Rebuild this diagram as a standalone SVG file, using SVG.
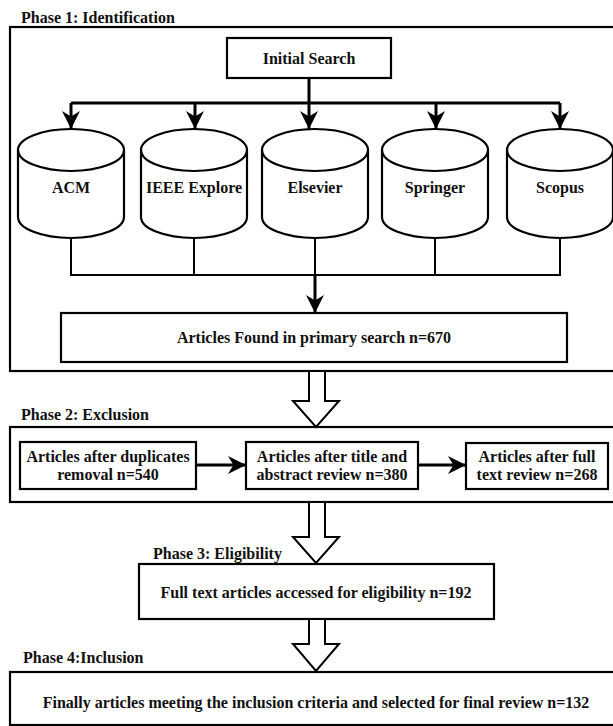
<svg xmlns="http://www.w3.org/2000/svg" width="613" height="726" viewBox="0 0 613 726">
<defs>
<style>
.bg{fill:#fff}
.box{fill:#fff;stroke:#000;stroke-width:2.2}
.frame{fill:none;stroke:#000;stroke-width:2.2}
.ln{fill:none;stroke:#000;stroke-width:2}
.lnb{fill:none;stroke:#000;stroke-width:3}
.hol{fill:#fff;stroke:#000;stroke-width:2;stroke-linejoin:miter}
text{font-family:"Liberation Serif","Times New Roman",serif;font-weight:bold;font-size:16px;fill:#111}
.c{text-anchor:middle}
</style>
<marker id="ah" viewBox="0 0 10 10" refX="10" refY="5" markerWidth="6" markerHeight="6" markerUnits="strokeWidth" orient="auto">
<path d="M0,0 L10,5 L0,10 L3,5 Z" fill="#000"/>
</marker>
<marker id="ah2" viewBox="0 0 10 10" refX="10" refY="5" markerWidth="8" markerHeight="8" markerUnits="strokeWidth" orient="auto">
<path d="M0,0 L10,5 L0,10 L3,5 Z" fill="#000"/>
</marker>
</defs>
<rect class="bg" x="0" y="0" width="613" height="726"/>

<g id="phase1">
<text x="21" y="23">Phase 1: Identification</text>
<rect class="frame" x="10" y="27" width="606" height="344"/>
</g>

<g id="initial-search">
<rect class="box" x="227" y="38" width="164" height="40"/>
<text class="c" x="309" y="64">Initial Search</text>
</g>

<g id="acm">
<path class="box" d="M18,150 V217 A53,21 0 0 0 124,217 V150 A53,21 0 0 0 18,150 Z"/>
<path class="ln" d="M18,150 A53,21 0 0 0 124,150" style="stroke-width:2.2"/>
<text class="c" x="71" y="193">ACM</text>
</g>
<g id="ieee">
<path class="box" d="M141,150 V217 A53,21 0 0 0 247,217 V150 A53,21 0 0 0 141,150 Z"/>
<path class="ln" d="M141,150 A53,21 0 0 0 247,150" style="stroke-width:2.2"/>
<text class="c" x="194" y="193">IEEE Explore</text>
</g>
<g id="elsevier">
<path class="box" d="M262,150 V217 A53,21 0 0 0 368,217 V150 A53,21 0 0 0 262,150 Z"/>
<path class="ln" d="M262,150 A53,21 0 0 0 368,150" style="stroke-width:2.2"/>
<text class="c" x="315" y="193">Elsevier</text>
</g>
<g id="springer">
<path class="box" d="M382,150 V217 A53,21 0 0 0 488,217 V150 A53,21 0 0 0 382,150 Z"/>
<path class="ln" d="M382,150 A53,21 0 0 0 488,150" style="stroke-width:2.2"/>
<text class="c" x="435" y="193">Springer</text>
</g>
<g id="scopus">
<path class="box" d="M507,150 V217 A53,21 0 0 0 613,217 V150 A53,21 0 0 0 507,150 Z"/>
<path class="ln" d="M507,150 A53,21 0 0 0 613,150" style="stroke-width:2.2"/>
<text class="c" x="560" y="193">Scopus</text>
</g>

<g id="articles-found">
<rect class="box" x="61" y="313" width="506" height="49"/>
<text class="c" x="314" y="343">Articles Found in primary search n=670</text>
</g>

<g id="phase2">
<text x="21" y="420">Phase 2: Exclusion</text>
<rect class="frame" x="10" y="427" width="606" height="75"/>
</g>
<g id="after-duplicates">
<rect class="box" x="20" y="442" width="176" height="47"/>
<text class="c" x="108" y="462">Articles after duplicates</text>
<text class="c" x="108" y="480">removal n=540</text>
</g>
<g id="after-title">
<rect class="box" x="246" y="442" width="172" height="47"/>
<text class="c" x="332" y="462">Articles after title and</text>
<text class="c" x="332" y="480">abstract review n=380</text>
</g>
<g id="after-fulltext">
<rect class="box" x="466" y="443" width="142" height="46"/>
<text class="c" x="537" y="462">Articles after full</text>
<text class="c" x="537" y="480">text review n=268</text>
</g>

<g id="phase3">
<text x="153" y="559">Phase 3: Eligibility</text>
<rect class="box" x="139" y="564" width="355" height="55"/>
<text class="c" x="316" y="598">Full text articles accessed for eligibility n=192</text>
</g>

<g id="phase4">
<text x="23" y="663">Phase 4:Inclusion</text>
<rect class="box" x="10" y="672" width="606" height="53"/>
<text class="c" x="316" y="708">Finally articles meeting the inclusion criteria and selected for final review n=132</text>
</g>

<g id="connectors">
<path class="lnb" d="M309,78 V103"/>
<path class="lnb" d="M71,103 H560"/>
<path class="lnb" d="M71,103 V129" marker-end="url(#ah)"/>
<path class="lnb" d="M195,103 V129" marker-end="url(#ah)"/>
<path class="lnb" d="M309,103 V129" marker-end="url(#ah)"/>
<path class="lnb" d="M436,103 V129" marker-end="url(#ah)"/>
<path class="lnb" d="M560,103 V129" marker-end="url(#ah)"/>
<path class="ln" d="M71,238 V275 H560 V238"/>
<path class="ln" d="M194,238 V275"/>
<path class="ln" d="M435,238 V275"/>
<path class="ln" d="M315,238 V275"/>
<path class="lnb" d="M315,275 V313" marker-end="url(#ah)"/>
<path class="lnb" d="M196,465 H246" marker-end="url(#ah)"/>
<path class="lnb" d="M418,465 H466" marker-end="url(#ah)"/>
<path class="hol" d="M309,372 V401 H293 L316,427 L339,401 H325 V372"/>
<path class="hol" d="M309,503 V537 H293 L316,563 L339,537 H325 V503"/>
<path class="hol" d="M309,620 V644 H293 L316,671 L339,644 H325 V620"/>
</g>
</svg>
